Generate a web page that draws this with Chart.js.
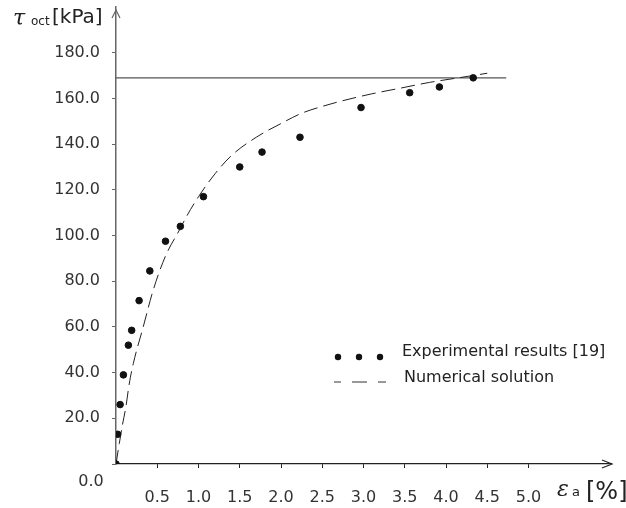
<!DOCTYPE html>
<html>
<head>
<meta charset="utf-8">
<script src="https://cdn.jsdelivr.net/npm/chart.js@4.4.1/dist/chart.umd.min.js"></script>
<style>
  html, body { margin: 0; padding: 0; background: #fff; }
  #wrap { width: 626px; height: 508px; }
</style>
</head>
<body>
<div id="wrap"><canvas id="chart" width="626" height="508"></canvas></div>
<script>
// strain eps_a [%] vs octahedral shear stress tau_oct [kPa]
const expStrain = [0, 0.02, 0.05, 0.09, 0.15, 0.19, 0.28, 0.41, 0.60, 0.78, 1.06, 1.50, 1.77, 2.23, 2.97, 3.56, 3.92, 4.33];
const expStress = [0, 13, 26, 39, 52, 58.5, 71.5, 84.5, 97.5, 104, 117, 130, 136.5, 143, 156, 162.5, 165, 169];

const numStrain = [0, 0.04, 0.08, 0.12, 0.16, 0.21, 0.33, 0.45, 0.60, 0.77, 0.85, 1.0, 1.2, 1.4, 1.7, 2.0, 2.25, 2.5, 2.75, 3.1, 3.45, 3.8, 4.15, 4.5];
const numStress = [0, 9, 17.5, 25, 35, 44, 60, 76, 91, 102.5, 108, 117, 127, 135, 143, 149, 153.5, 156.5, 159, 162, 164.5, 167, 169, 171];

const limitStrain = [0, 4.73];
const limitStress = [169, 169];

const xTicks = [0.5, 1.0, 1.5, 2.0, 2.5, 3.0, 3.5, 4.0, 4.5, 5.0];
const yTicks = [0, 20, 40, 60, 80, 100, 120, 140, 160, 180];

const FONT = '"DejaVu Sans", "Liberation Sans", sans-serif';
const zip = (xs, ys) => xs.map((x, i) => ({ x: x, y: ys[i] }));

// arrows, axis titles, "0.0" label and the in-plot legend
const decorations = {
  id: 'decorations',
  afterDraw(chart) {
    const ctx = chart.ctx;
    const a = chart.chartArea;
    ctx.save();

    // axis arrows
    ctx.lineWidth = 1.2;
    ctx.strokeStyle = '#666';
    ctx.beginPath();
    ctx.moveTo(a.left - 4, a.top + 11);
    ctx.lineTo(a.left, a.top + 3);
    ctx.lineTo(a.left + 4, a.top + 11);
    ctx.stroke();
    ctx.strokeStyle = '#222';
    ctx.beginPath();
    ctx.moveTo(a.right - 9, a.bottom - 4);
    ctx.lineTo(a.right + 1, a.bottom);
    ctx.lineTo(a.right - 9, a.bottom + 4);
    ctx.stroke();

    ctx.fillStyle = '#222';
    ctx.textBaseline = 'middle';

    // y title
    ctx.textAlign = 'left';
    ctx.font = 'italic 22px "DejaVu Serif", serif';
    ctx.fillText('τ', 13, 19);
    ctx.font = '12px ' + FONT;
    ctx.fillText('oct', 31, 22);
    ctx.font = '20px ' + FONT;
    ctx.fillText('[kPa]', 52, 18);

    // x title
    ctx.font = 'italic 22px "DejaVu Serif", serif';
    ctx.fillText('ε', 557, 490);
    ctx.font = '13px ' + FONT;
    ctx.fillText('a', 572, 493);
    ctx.font = '24px ' + FONT;
    ctx.fillText('[%]', 586, 493);

    // origin label
    ctx.font = '16px ' + FONT;
    ctx.fillStyle = '#333';
    ctx.textAlign = 'center';
    ctx.fillText('0.0', 91, 482);

    // legend
    const ds = chart.data.datasets;
    ctx.textAlign = 'left';
    ctx.fillStyle = '#111';
    [338, 359, 380].forEach(x => {
      ctx.beginPath();
      ctx.arc(x, 357, 3.2, 0, Math.PI * 2);
      ctx.fill();
    });
    ctx.fillStyle = '#222';
    ctx.font = '16px ' + FONT;
    ctx.fillText(ds[0].label, 402, 352);
    ctx.strokeStyle = '#333';
    ctx.lineWidth = 1;
    ctx.beginPath();
    [[334, 341], [352, 367], [378, 386]].forEach(([x0, x1]) => {
      ctx.moveTo(x0, 382);
      ctx.lineTo(x1, 382);
    });
    ctx.stroke();
    ctx.fillText(ds[1].label, 404, 378);

    ctx.restore();
  }
};

new Chart(document.getElementById('chart'), {
  type: 'scatter',
  data: {
    datasets: [
      {
        label: 'Experimental results [19]',
        data: zip(expStrain, expStress),
        backgroundColor: '#111',
        borderColor: '#111',
        pointRadius: 3.3,
        pointHoverRadius: 3.3,
        order: 0
      },
      {
        label: 'Numerical solution',
        data: zip(numStrain, numStress),
        showLine: true,
        borderColor: '#222',
        borderWidth: 1,
        borderDash: [14, 6],
        pointRadius: 0,
        cubicInterpolationMode: 'monotone',
        order: 1
      },
      {
        label: 'limit',
        data: zip(limitStrain, limitStress),
        showLine: true,
        borderColor: '#555',
        borderWidth: 1.3,
        pointRadius: 0,
        order: 2
      }
    ]
  },
  options: {
    responsive: false,
    animation: false,
    layout: { padding: { top: 7, right: 15, left: 0, bottom: 0 } },
    plugins: { legend: { display: false }, tooltip: { enabled: false } },
    scales: {
      x: {
        type: 'linear',
        min: 0,
        max: 6,
        afterBuildTicks: s => { s.ticks = xTicks.map(v => ({ value: v })); },
        afterFit: s => { s.height = 44; s.paddingLeft = 0; s.paddingRight = 0; },
        grid: { drawOnChartArea: false, drawTicks: true, tickLength: 4, color: '#222' },
        border: { color: '#222', width: 1.2 },
        ticks: {
          padding: 20,
          color: '#333',
          font: { family: FONT, size: 16 },
          maxRotation: 0,
          callback: v => Number(v).toFixed(1)
        }
      },
      y: {
        type: 'linear',
        min: 0,
        max: 200,
        afterBuildTicks: s => { s.ticks = yTicks.map(v => ({ value: v })); },
        afterFit: s => { s.width = 116; s.paddingTop = 0; s.paddingBottom = 0; },
        grid: { drawOnChartArea: false, drawTicks: true, tickLength: 4, color: '#666' },
        border: { color: '#666', width: 1.5 },
        ticks: {
          padding: 12,
          color: '#333',
          font: { family: FONT, size: 16 },
          callback: v => (v === 0 ? '' : Number(v).toFixed(1))
        }
      }
    }
  },
  plugins: [decorations]
});
</script>
</body>
</html>
